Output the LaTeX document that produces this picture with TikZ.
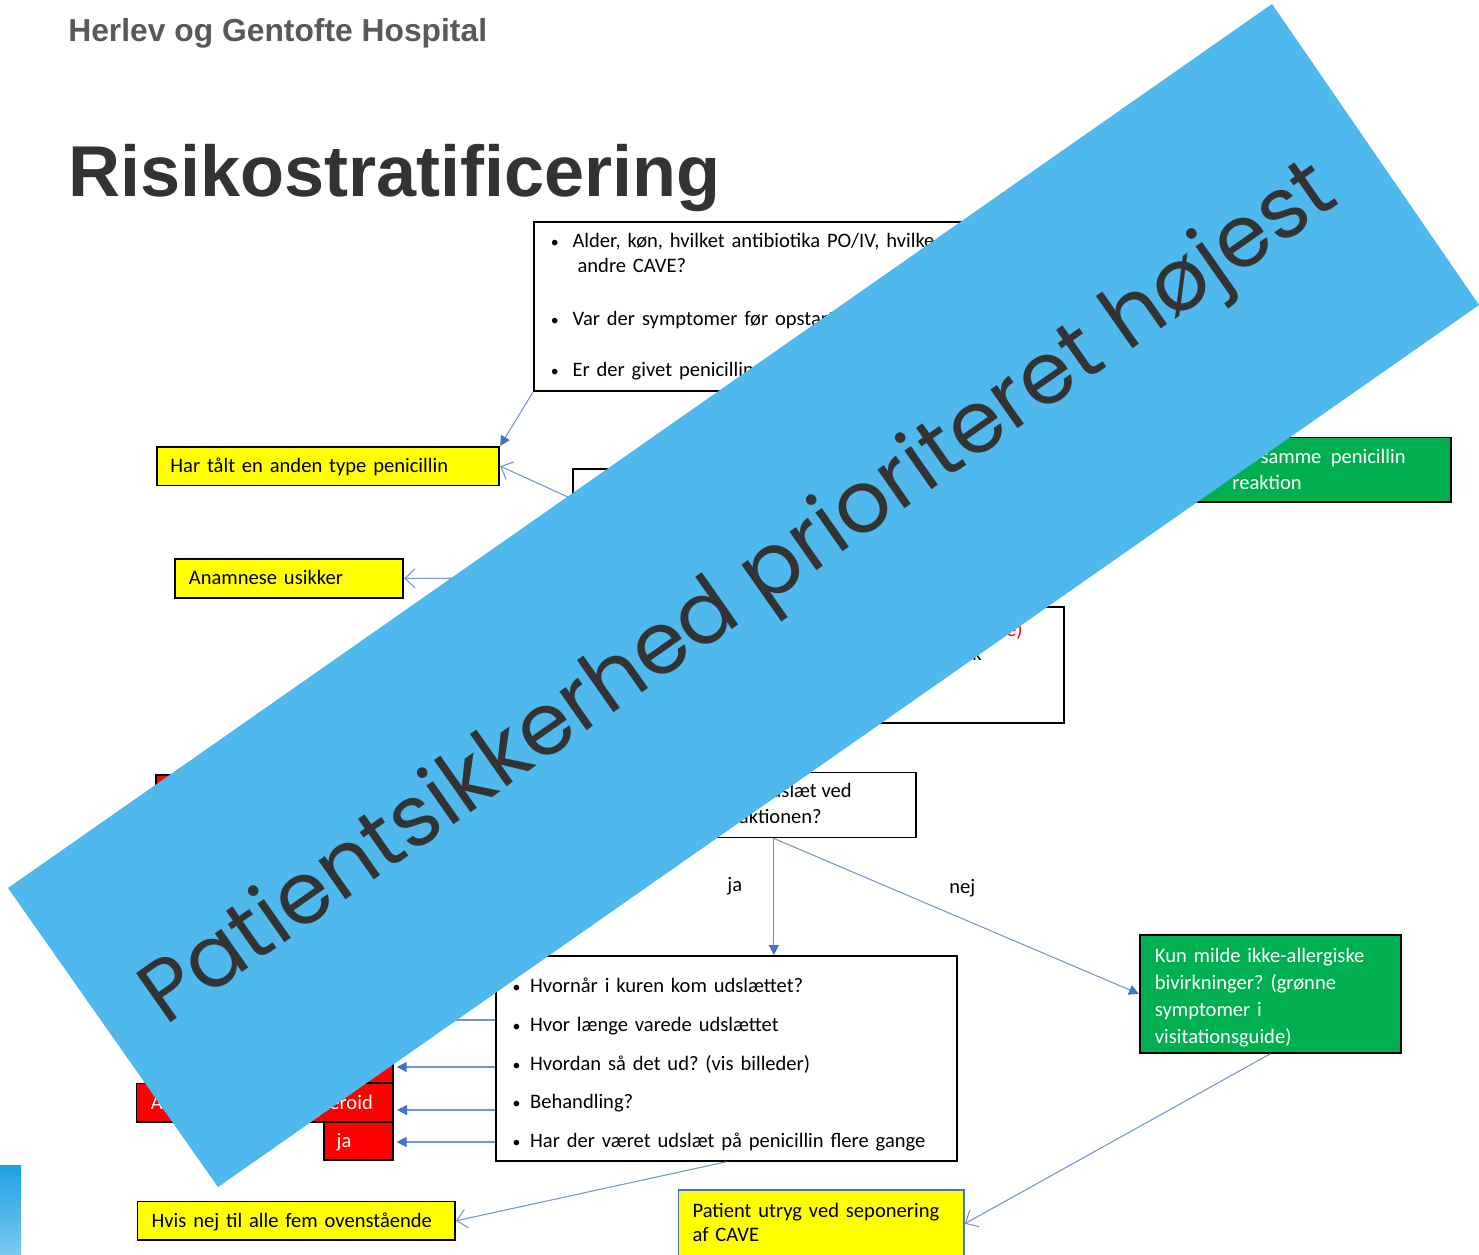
\documentclass[tikz,border=0pt]{standalone}
\usepackage{fontspec}
\setmainfont{Carlito}
\newfontfamily\headfont{Liberation Sans}
\newfontfamily\bannerfont{Poppins}
\usetikzlibrary{arrows.meta}
\frenchspacing

\definecolor{hgyellow}{RGB}{255,255,0}
\definecolor{hggreen}{RGB}{0,176,80}
\definecolor{hgred}{RGB}{255,0,0}
\definecolor{linkblue}{RGB}{114,147,212}
\definecolor{tipblue}{RGB}{68,114,196}
\definecolor{bannerblue}{RGB}{79,184,236}
\definecolor{titlegray}{RGB}{89,89,89}
\definecolor{darkgray}{RGB}{51,51,51}
\definecolor{bartop}{RGB}{27,161,226}
\definecolor{barbottom}{RGB}{125,200,240}

\tikzset{
  hgbox/.style={draw=black, line width=1pt, anchor=north west, inner ysep=0pt, align=left, font=\fontsize{11.7}{14.8}\selectfont},
  yelbox/.style={hgbox, fill=hgyellow},
  redbox/.style={hgbox, fill=hgred, text=white},
  grnbox/.style={hgbox, fill=hggreen, text=white},
  qbox/.style={hgbox, fill=white},
  frag/.style={inner sep=0pt, anchor=base east, font=\fontsize{11.7}{14.8}\selectfont},
  conn/.style={draw=linkblue, line width=0.6pt},
  fillarr/.style={conn, -{Triangle[length=0.2cm,width=0.2cm,color=tipblue]}},
  openarr/.style={conn, -{Straight Barb[length=0.2cm,width=0.38cm]}},
}
\newcommand{\blt}[1]{\makebox[#1][l]{\small\textbullet}}

\begin{document}
\begin{tikzpicture}[x=0.02cm, y=-0.02cm]
    \fill[white] (0,0) rectangle (1479,1254);
    \useasboundingbox (0,0) rectangle (1479,1254);

    % overskrifter
    \node[anchor=base west, inner sep=0pt, text=titlegray, font=\headfont\bfseries\fontsize{18.1}{20}\selectfont] (hosp) at (68,41) {Herlev og Gentofte Hospital};
    \node[anchor=base west, inner sep=0pt, text=darkgray, font=\headfont\bfseries\fontsize{41}{44}\selectfont] (title) at (68,196) {Risikostratificering};

    % spoergsmaal oeverst
    \node[qbox, inner xsep=0.34cm, text width=11.66cm, text height=0.514cm, text depth=2.87cm, font=\fontsize{11.7}{14.2}\selectfont] (qA) at (533,221)
        {\blt{0.434cm}Alder, køn, hvilket antibiotika PO/IV, hvilke\\
         \hspace*{0.534cm}andre CAVE?\\[0.566cm]
         \blt{0.434cm}Var der symptomer før opstart\\[0.514cm]
         \blt{0.434cm}Er der givet penicillin};
    \node[qbox, minimum width=8.56cm, minimum height=1.2cm, inner sep=0pt] (qB) at (572,468) {};
    \node[qbox, minimum width=9.27cm, minimum height=2.32cm, inner sep=0pt] (qC) at (600,606) {};
    \node[frag, text=hgred] (cred) at (1023,636) {e)};
    \node[frag] (cblk) at (982,660) {k};

    % gule felter
    \node[yelbox, inner xsep=0.27cm, text width=6.31cm, text height=0.52cm, text depth=0.25cm] (tol) at (156,446) {Har tålt en anden type penicillin};
    \node[yelbox, inner xsep=0.28cm, text width=4.01cm, text height=0.51cm, text depth=0.27cm] (unsure) at (174,558) {Anamnese usikker};
    \node[yelbox, inner xsep=0.28cm, text width=5.79cm, text height=0.52cm, text depth=0.25cm] (none) at (136.7,1200.7) {Hvis nej til alle fem ovenstående};
    \node[yelbox, draw=tipblue, inner xsep=0.28cm, text width=5.15cm, text height=0.55cm, text depth=0.79cm, font=\fontsize{11.7}{13.8}\selectfont] (utryg) at (677.7,1189.3) {Patient utryg ved seponering\\af CAVE};

    % groenne felter
    \node[grnbox, minimum width=7cm, minimum height=1.3cm, inner sep=0pt] (same) at (1100,436.5) {};
    \node[frag, text=white] (samea) at (1406,463) {samme\ \ penicillin};
    \node[frag, text=white] (sameb) at (1302,489) {reaktion};
    \node[grnbox, inner xsep=0.30cm, text width=4.62cm, text height=0.56cm, text depth=1.80cm, font=\fontsize{11.7}{15.2}\selectfont] (mild) at (1139,934)
        {Kun milde ikke-allergiske\\bivirkninger? (grønne\\symptomer i\\visitationsguide)};

    % udslaet
    \node[qbox, minimum width=5.68cm, minimum height=1.3cm, inner sep=0pt] (qD) at (631,771.7) {};
    \node[frag] (da) at (852,797) {udslæt ved};
    \node[frag] (db) at (822,823) {reaktionen?};
    \node[anchor=base west, inner sep=0pt, font=\fontsize{11.7}{14.8}\selectfont] (lja) at (727,891.7) {ja};
    \node[anchor=base west, inner sep=0pt, font=\fontsize{11.7}{14.8}\selectfont] (lnej) at (949,893) {nej};

    \node[qbox, inner xsep=0.334cm, text width=8.56cm, text height=0.734cm, text depth=3.366cm, font=\fontsize{11.7}{22.05}\selectfont] (qE) at (495,955)
        {\blt{0.352cm}Hvornår i kuren kom udslættet?\\
         \blt{0.352cm}Hvor længe varede udslættet\\
         \blt{0.352cm}Hvordan så det ud? (vis billeder)\\
         \blt{0.352cm}Behandling?\\
         \blt{0.352cm}Har der været udslæt på penicillin flere gange};

    % roede felter
    \node[redbox, minimum width=4.74cm, minimum height=0.78cm, inner sep=0pt] (rtop) at (155,774) {};
    \node[redbox, minimum width=3.24cm, minimum height=0.78cm, inner sep=0pt] (rfour) at (230,1043) {};
    \node[redbox, inner xsep=0.286cm, text width=4.56cm, text height=0.51cm, text depth=0.255cm] (reroid) at (135.7,1082.7) {A\hfill eroid\hspace*{0.12cm}};
    \node[redbox, inner xsep=0.25cm, text width=0.87cm, text height=0.51cm, text depth=0.25cm] (rja) at (323.3,1121) {ja};

    % pile
    \coordinate (usrc) at (560,578);
    \draw[fillarr] (qA.south west) -- (tol.north east);
    \draw[openarr] (qB.west) -- (tol.east);
    \draw[openarr] (usrc) -- (unsure.east);
    \draw[fillarr] (qD.south) -- (qD.south |- qE.north);
    \draw[fillarr] (qD.south) -- (mild.west);
    \draw[fillarr] (qE.west |- 0,1020) -- ++(-95,0);
    \foreach \y/\target in {1067/rfour, 1110/reroid, 1142/rja}
        \draw[fillarr, shorten >=0.06cm] (qE.west |- 0,\y) -- (\target.east |- 0,\y);
    \draw[openarr] (qE.south) -- (none.east);
    \draw[openarr] (mild.south) -- (utryg.east);

    % bjaelke
    \shade[top color=bartop, bottom color=barbottom] (0,1165) rectangle (21,1254);
    \fill[bannerblue] (8,888) -- (1272,4) -- (1479,305) -- (218,1187) -- cycle;
    \node[rotate=35, text=darkgray, font=\bannerfont\fontsize{49}{55}\selectfont, inner sep=0pt] (slogan) at (741,597) {Patientsikkerhed prioriteret højest};
\end{tikzpicture}
\end{document}
